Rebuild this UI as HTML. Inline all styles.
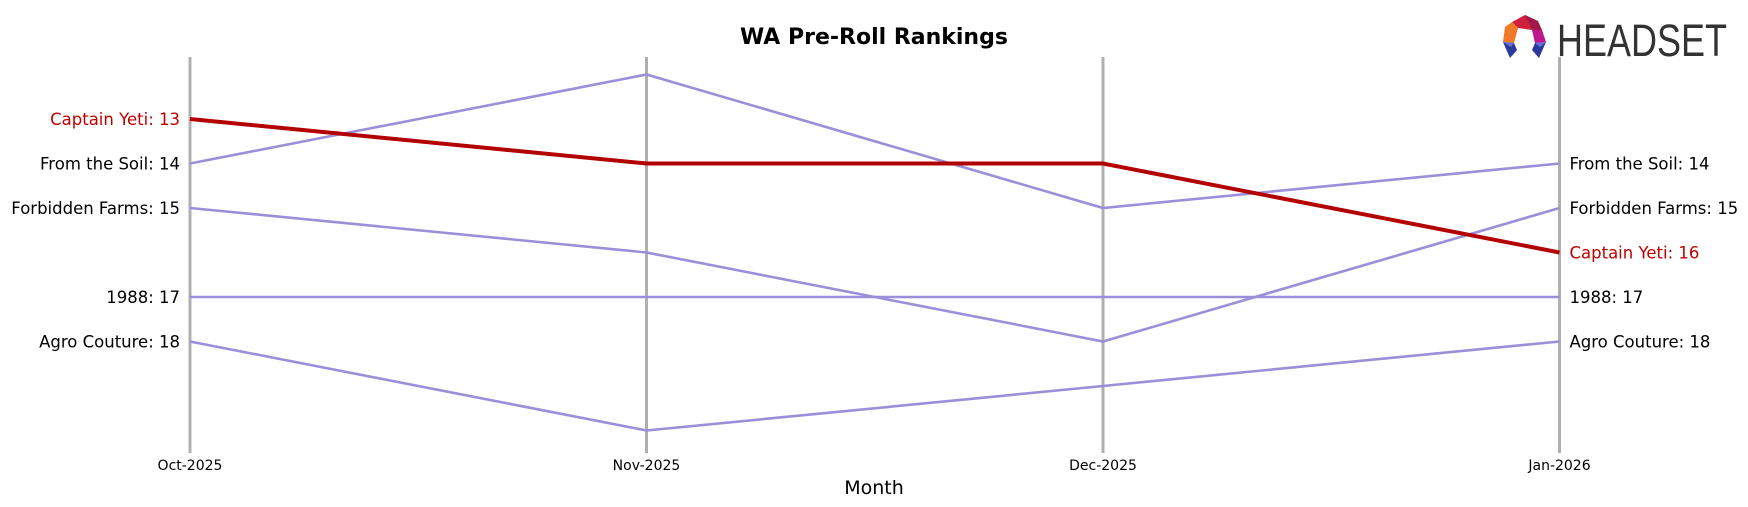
<!DOCTYPE html>
<html><head><meta charset="utf-8"><style>
html,body{margin:0;padding:0;background:#fff;}
svg{display:block;font-family:"DejaVu Sans","Liberation Sans",sans-serif;}
</style></head><body>
<svg id="chart" width="1748" height="507" viewBox="0 0 1748 507" xmlns="http://www.w3.org/2000/svg">
<text x="874" y="44" text-anchor="middle" font-size="22" font-weight="bold">WA Pre-Roll Rankings</text>
<text x="874" y="494" text-anchor="middle" font-size="19">Month</text>
<g>
<polygon points="1525,15 1537,21 1532,30 1518,28 1512,22" fill="#d0203a"/>
<polygon points="1525,15 1538,21 1542,30 1532,30" fill="#a01845"/>
<polygon points="1512,22 1518,28 1514,43 1503,42 1505,27" fill="#f07a2a"/>
<polygon points="1542,30 1546,42 1535,43 1532,30" fill="#c0188a"/>
<polygon points="1503,42 1514,43 1517,50 1510,58" fill="#2a3a9a"/>
<polygon points="1535,43 1546,42 1539,58 1532,50" fill="#2a3a9a"/>
<polygon points="1503,42 1514,43 1511,47" fill="#6a70e0"/>
<polygon points="1535,43 1546,42 1540,47" fill="#6a70e0"/>
<text x="1557" y="56" font-family="Liberation Sans, sans-serif" font-size="45" fill="#333" transform="translate(1557 0) scale(0.8 1) translate(-1557 0)">HEADSET</text>
</g>
<g id="axes"></g>
<g id="lines"></g>
<g id="labels"></g>
</svg>
<script>
const months = ["Oct-2025","Nov-2025","Dec-2025","Jan-2026"];
const brands = ["From the Soil","Forbidden Farms","1988","Agro Couture","Captain Yeti"];
const fromTheSoil = [14,12,15,14];
const forbiddenFarms = [15,16,18,15];
const r1988 = [17,17,17,17];
const agroCouture = [18,20,19,18];
const captainYeti = [13,14,14,16];
const series = [fromTheSoil, forbiddenFarms, r1988, agroCouture, captainYeti];
const highlight = "Captain Yeti";

const NS="http://www.w3.org/2000/svg";
const x = i => 190 + i*456.5;
const y = r => 119 + (r-13)*44.5;
function mk(tag, attrs, parent){const e=document.createElementNS(NS,tag);for(const k in attrs)e.setAttribute(k,attrs[k]);parent.appendChild(e);return e;}
const axes=document.getElementById('axes'), lines=document.getElementById('lines'), labels=document.getElementById('labels');
months.forEach((m,i)=>{
  const l=mk('line',{x1:x(i),x2:x(i),y1:57,y2:453,stroke:'#b0b0b0','stroke-width':3},axes);
  
  
  const t=mk('text',{x:x(i),y:470,'text-anchor':'middle','font-size':14},axes);
  t.textContent=m;
  
  
});
brands.forEach((b,si)=>{
  const v=series[si], hi=b===highlight;
  const p=mk('polyline',{points:v.map((r,i)=>x(i)+','+y(r)).join(' '),fill:'none',stroke:hi?'#b30000':'#9b8fd9','stroke-width':hi?4:2.6},lines);
  
  
  const col=hi?'#c00000':'#000';
  const lt=mk('text',{x:x(0)-10,y:y(v[0])+6,'text-anchor':'end','font-size':16.5,fill:col},labels);
  lt.textContent=b+': '+v[0];
  
  
  const n=v.length-1;
  const rt=mk('text',{x:x(n)+10,y:y(v[n])+6,'text-anchor':'start','font-size':16.5,fill:col},labels);
  rt.textContent=b+': '+v[n];
  
  
});
</script>
</body></html>
